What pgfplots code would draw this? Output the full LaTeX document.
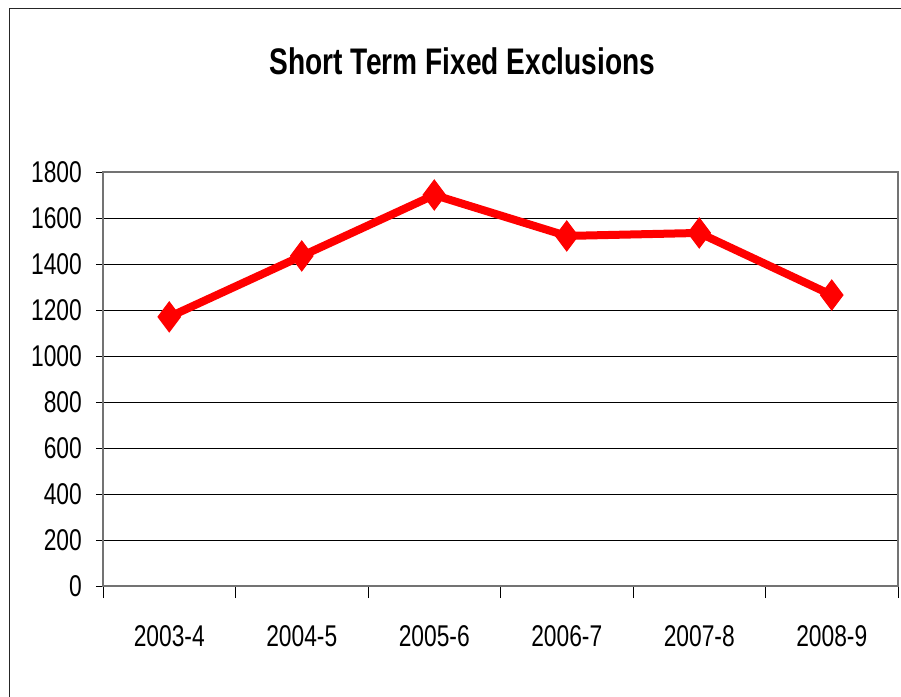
\documentclass[border=0pt]{standalone}
\usepackage{pgfplots}
\pgfplotsset{compat=1.18}
\usepackage{fontspec}
\setmainfont{Liberation Sans}[FakeStretch=0.76]
\begin{document}
\begin{tikzpicture}[x=1pt,y=1pt]
\useasboundingbox (0,0) rectangle (901,696);
\draw[line width=1.8pt, black!85] (9.5,-10) rectangle (915,687.5);
\node[font=\bfseries\fontsize{37}{40}\selectfont] at (462.5,635) {Short Term Fixed Exclusions};
\begin{axis}[
  at={(103pt,110pt)}, anchor=south west,
  scale only axis, width=795pt, height=414pt,
  xmin=0, xmax=6, ymin=0, ymax=1800,
  xtick={0.5,1.5,2.5,3.5,4.5,5.5},
  xticklabels={2003-4,2004-5,2005-6,2006-7,2007-8,2008-9},
  minor xtick={0,1,2,3,4,5,6},
  ytick={0,200,...,1800},
  ymajorgrids, grid style={black, line width=0.8pt},
  major x tick style={draw=none},
  minor tick length=12pt, major tick length=7pt,
  tick align=outside, tick style={black, line width=0.8pt},
  xtick pos=bottom, ytick pos=left,
  axis line style={gray!90!black, line width=1.5pt},
  /pgf/number format/assume math mode=true,
  /pgf/number format/set thousands separator={},
  ticklabel style={font=\fontsize{30}{32}\selectfont},
  yticklabel style={anchor=east, inner sep=0pt, xshift=-14pt},
  xticklabel style={anchor=center, inner sep=0pt, yshift=-43pt},
  clip=false,
]
\addplot[red, line width=8pt, mark=diamond*, mark size=15pt,
  mark options={line width=1pt, fill=red, draw=red}]
  coordinates {(0.5,1170) (1.5,1435) (2.5,1700) (3.5,1522) (4.5,1535) (5.5,1265)};
\end{axis}
\end{tikzpicture}
\end{document}
